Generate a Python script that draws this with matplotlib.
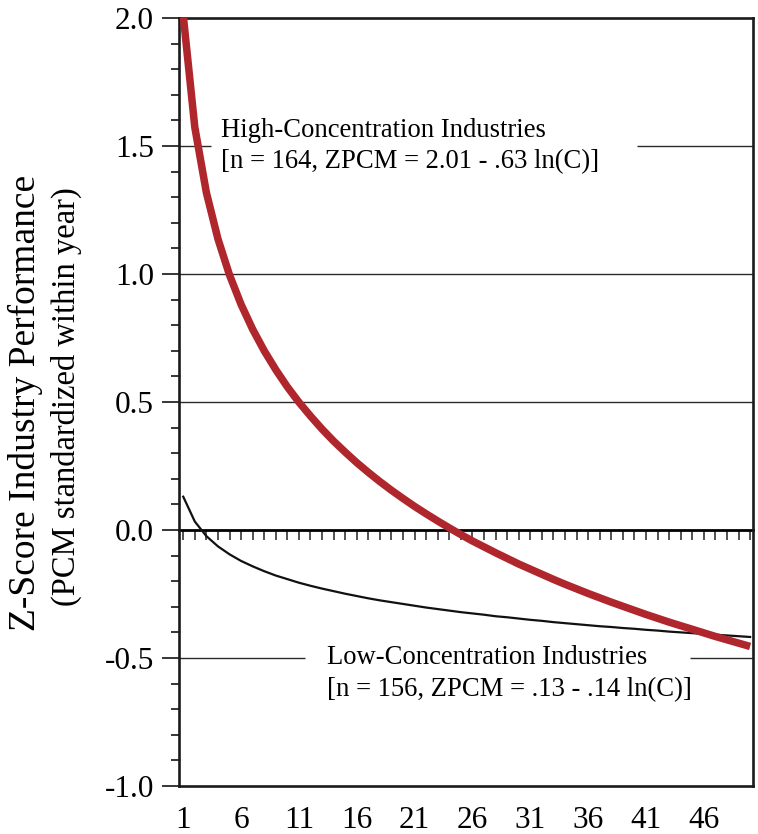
import numpy as np
import matplotlib.pyplot as plt

plt.rcParams['font.family'] = ['Liberation Serif', 'DejaVu Serif']

# DATA
concentration = list(range(1, 51))

zpcm_high = [2.010, 1.573, 1.318, 1.137, 0.996, 0.881, 0.784, 0.700, 0.626, 0.559,
             0.499, 0.445, 0.394, 0.347, 0.304, 0.263, 0.225, 0.189, 0.155, 0.123,
             0.092, 0.063, 0.035, 0.008, -0.018, -0.043, -0.066, -0.089, -0.111, -0.133,
             -0.153, -0.173, -0.193, -0.212, -0.230, -0.248, -0.265, -0.282, -0.298, -0.314,
             -0.330, -0.345, -0.360, -0.374, -0.388, -0.402, -0.416, -0.429, -0.442, -0.455]

zpcm_low = [0.130, 0.033, -0.024, -0.064, -0.095, -0.121, -0.142, -0.161, -0.178, -0.192,
            -0.206, -0.218, -0.229, -0.239, -0.249, -0.258, -0.267, -0.275, -0.282, -0.289,
            -0.296, -0.303, -0.309, -0.315, -0.321, -0.326, -0.331, -0.337, -0.341, -0.346,
            -0.351, -0.355, -0.360, -0.364, -0.368, -0.372, -0.376, -0.379, -0.383, -0.386,
            -0.390, -0.393, -0.397, -0.400, -0.403, -0.406, -0.409, -0.412, -0.415, -0.418]

x_ticks = [1, 6, 11, 16, 21, 26, 31, 36, 41, 46]
y_ticks = [-1.0, -0.5, 0.0, 0.5, 1.0, 1.5, 2.0]

high_label = ["High-Concentration Industries", "[n = 164, ZPCM = 2.01 - .63 ln(C)]"]
low_label = ["Low-Concentration Industries", "[n = 156, ZPCM = .13 - .14 ln(C)]"]

# FIGURE
fig = plt.figure(figsize=(7.58, 8.34), dpi=100)
ax = fig.add_axes([0.2361, 0.0576, 0.7573, 0.9208])

ax.set_xlim(0.63, 50.25)
ax.set_ylim(-1.0, 2.0)

# grid lines (some broken by the annotations)
grid_kw = dict(color="#2a2a2a", lw=1.0, zorder=1)
ax.hlines([1.0, 0.5], 0.63, 50.25, **grid_kw)
ax.hlines(1.5, 0.63, 3.4, **grid_kw)
ax.hlines(1.5, 40.2, 50.25, **grid_kw)
ax.hlines(-0.5, 0.63, 11.5, **grid_kw)
ax.hlines(-0.5, 44.8, 50.25, **grid_kw)

# zero line with integer ticks below it
zero_ax = ax.secondary_xaxis(1 / 3)
zero_ax.spines["bottom"].set_linewidth(2.0)
zero_ax.set_xticks(concentration)
zero_ax.tick_params(direction="out", length=7.5, width=1.1, labelbottom=False, color="#222222")

# curves
ax.plot(concentration, zpcm_low, color="#111111", lw=1.6, zorder=3)
ax.plot(concentration, zpcm_high, color="#b0262d", lw=5.4, zorder=4, solid_capstyle="butt")

# annotations
ax.text(4.26, 1.56, high_label[0], fontsize=19.2, va="center", ha="left")
ax.text(4.26, 1.44, high_label[1], fontsize=19.2, va="center", ha="left")
ax.text(13.4, -0.5, low_label[0], fontsize=19.2, va="center", ha="left")
ax.text(13.4, -0.625, low_label[1], fontsize=19.2, va="center", ha="left")

# axes styling
for side in ["left", "right", "top", "bottom"]:
    ax.spines[side].set_linewidth(1.9)
    ax.spines[side].set_color("#1a1a1a")

ax.set_xticks(x_ticks)
ax.set_xticklabels([str(t) for t in x_ticks])
ax.tick_params(axis="x", length=0, pad=14.5, labelsize=22.5)

ax.set_yticks(y_ticks)
ax.set_yticklabels(["%.1f" % t for t in y_ticks])
ax.set_yticks(np.arange(-1.0, 2.01, 0.1), minor=True)
ax.tick_params(axis="y", which="major", direction="out", length=12, width=1.1, pad=6, labelsize=22.5)
ax.tick_params(axis="y", which="minor", direction="out", length=6, width=1.1)

fig.text(0.034, 0.517, "Z-Score Industry Performance", rotation=90, fontsize=27, ha="center", va="center")
fig.text(0.088, 0.524, "(PCM standardized within year)", rotation=90, fontsize=23.5, ha="center", va="center")

fig.savefig("out.png", dpi=100)
